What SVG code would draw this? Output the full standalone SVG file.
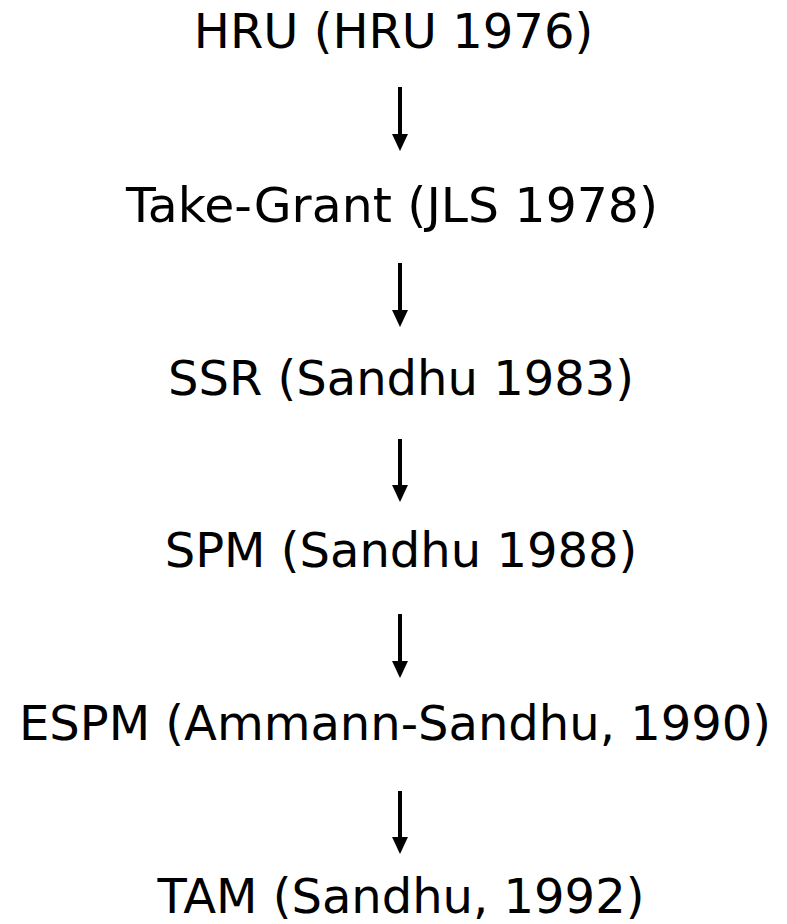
<svg xmlns="http://www.w3.org/2000/svg" width="787" height="924" viewBox="0 0 787 924">
  <style>
    .label { font-family: "DejaVu Sans", Verdana, sans-serif; font-size: 48px; fill: #000; text-anchor: middle; }
    .edge { stroke: #000; stroke-width: 4; fill: none; marker-end: url(#head); }
  </style>
  <defs>
    <!-- solid triangular head; the shaft stops inside it so the tip stays sharp -->
    <marker id="head" markerUnits="userSpaceOnUse" markerWidth="17" markerHeight="16" refX="7" refY="8" orient="auto" viewBox="0 0 17 16">
      <path d="M0,0 L17,8 L0,16 Z" fill="#000"/>
    </marker>
  </defs>
  <rect width="787" height="924" fill="#fff"/>

  <g id="connectors">
    <path class="edge" d="M400,87 V141"/>
    <path class="edge" d="M400,263 V317"/>
    <path class="edge" d="M400,439 V492"/>
    <path class="edge" d="M400,614 V668"/>
    <path class="edge" d="M400,791 V844"/>
  </g>

  <g id="hru"><text class="label" x="393.5" y="48">HRU (HRU 1976)</text></g>
  <g id="take-grant"><text class="label" x="392" y="222" textLength="532" lengthAdjust="spacingAndGlyphs">Take-Grant (JLS 1978)</text></g>
  <g id="ssr"><text class="label" x="401" y="395">SSR (Sandhu 1983)</text></g>
  <g id="spm"><text class="label" x="401" y="567">SPM (Sandhu 1988)</text></g>
  <g id="espm"><text class="label" x="395" y="740">ESPM (Ammann-Sandhu, 1990)</text></g>
  <g id="tam"><text class="label" x="401" y="913">TAM (Sandhu, 1992)</text></g>
</svg>
